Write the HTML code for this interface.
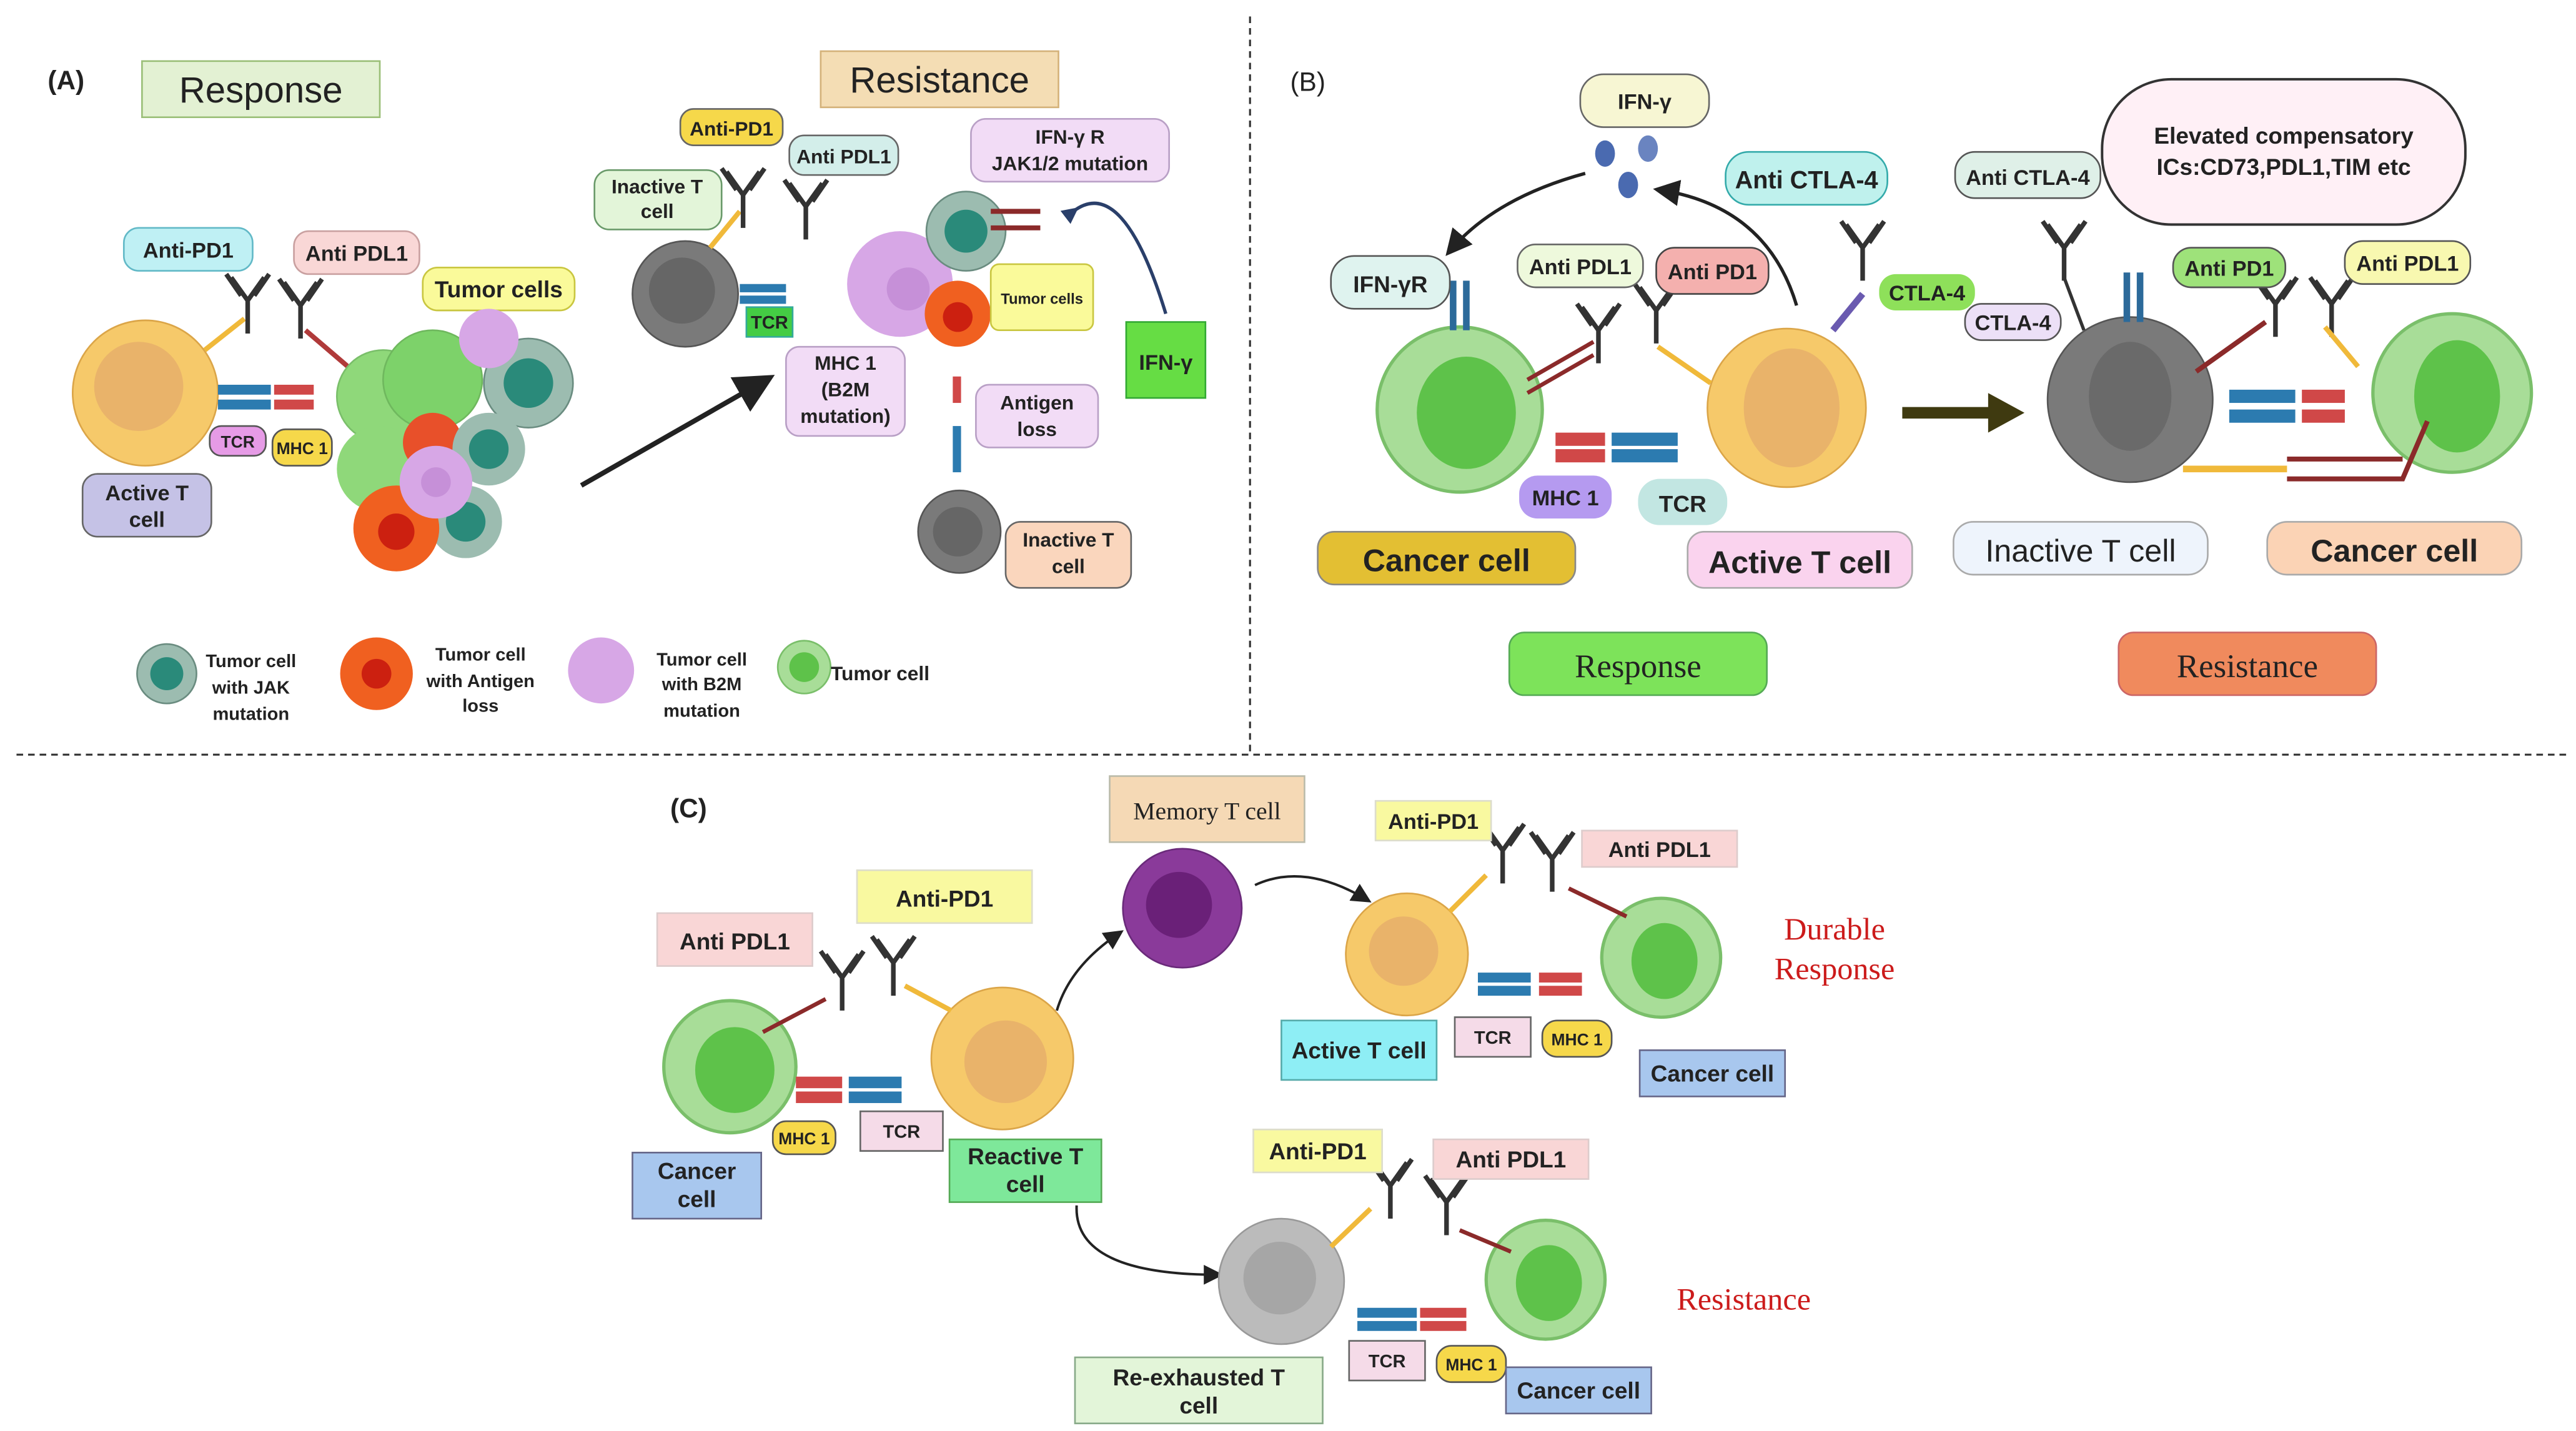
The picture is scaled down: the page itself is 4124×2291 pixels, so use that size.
<!DOCTYPE html>
<html><head><meta charset="utf-8"><style>
html,body{margin:0;padding:0;background:#fff;}
svg{display:block;}
text{font-family:"Liberation Sans",Arial,sans-serif;font-weight:bold;fill:#222;text-anchor:middle;}
.s{font-family:"Liberation Serif",serif;font-weight:normal;}
</style></head><body>
<svg width="4124" height="2291" viewBox="0 0 1560 866.6" preserveAspectRatio="none" xmlns="http://www.w3.org/2000/svg">
<defs>
<g id="ab"><path d="M0,0 L0,20 M0,0 L-10,-14 M0,0 L10,-14 M-4,-3 L-13,-16 M4,-3 L13,-16" stroke="#333" stroke-width="2.8" fill="none"/></g>
<marker id="ah" markerWidth="8" markerHeight="8" refX="6" refY="4" orient="auto"><path d="M0,0 L8,4 L0,8 Z" fill="#222"/></marker>
<marker id="ah2" markerWidth="5" markerHeight="5" refX="3" refY="2.5" orient="auto"><path d="M0,0 L5,2.5 L0,5 Z" fill="#2a3f6a"/></marker>
</defs>
<rect width="1560" height="866.6" fill="#fff"/>
<line x1="757" y1="10" x2="757" y2="455" stroke="#333" stroke-width="1.2" stroke-dasharray="4,3"/>
<line x1="10" y1="457" x2="1555" y2="457" stroke="#333" stroke-width="1.2" stroke-dasharray="4,3"/>

<!-- ===== Panel A ===== -->
<text x="40" y="54" font-size="16">(A)</text>
<rect x="86" y="37" width="144" height="34" fill="#e3f1d3" stroke="#9bbf78"/>
<text x="158" y="62" font-size="22" style="font-weight:normal">Response</text>
<rect x="497" y="31" width="144" height="34" fill="#f4ddb4" stroke="#d4b27a"/>
<text x="569" y="56" font-size="22" style="font-weight:normal">Resistance</text>

<circle cx="88" cy="238" r="44" fill="#f6c96a" stroke="#dba548"/>
<circle cx="84" cy="234" r="27" fill="#e9b36a"/>
<path d="M124,212 L148,193" stroke="#f0b93a" stroke-width="3"/>
<use href="#ab" x="150" y="182"/><use href="#ab" x="182" y="185"/>
<path d="M185,200 L220,230" stroke="#b03a3a" stroke-width="3"/>
<rect x="132" y="233" width="32" height="6" fill="#2c7bb0"/><rect x="132" y="242" width="32" height="6" fill="#2c7bb0"/>
<rect x="166" y="233" width="24" height="6" fill="#d04848"/><rect x="166" y="242" width="24" height="6" fill="#d04848"/>
<rect x="75" y="138" width="78" height="26" rx="9" fill="#bff0f4" stroke="#62b9c7"/><text x="114" y="156" font-size="13">Anti-PD1</text>
<rect x="178" y="140" width="76" height="26" rx="9" fill="#f9d7d6" stroke="#c9a0a0"/><text x="216" y="158" font-size="13">Anti PDL1</text>
<rect x="256" y="162" width="92" height="26" rx="9" fill="#fafa9a" stroke="#c9c640"/><text x="302" y="180" font-size="14">Tumor cells</text>
<rect x="127" y="258" width="34" height="18" rx="7" fill="#e69be6" stroke="#555"/><text x="144" y="271" font-size="10">TCR</text>
<rect x="165" y="260" width="36" height="22" rx="8" fill="#f6d84a" stroke="#555"/><text x="183" y="275" font-size="10">MHC 1</text>
<rect x="50" y="287" width="78" height="38" rx="9" fill="#c5c2e6" stroke="#666"/><text x="89" y="303" font-size="13">Active T</text><text x="89" y="319" font-size="13">cell</text>
<circle cx="232" cy="240" r="28" fill="#8fd87a" stroke="#7abf6a"/>
<circle cx="262" cy="230" r="30" fill="#7dd26a" stroke="#6fb85e"/>
<circle cx="230" cy="284" r="26" fill="#8fd87a"/>
<circle cx="262" cy="268" r="18" fill="#e8502a"/>
<circle cx="320" cy="232" r="27" fill="#9cbcb0" stroke="#6a8c80"/><circle cx="320" cy="232" r="15" fill="#2a8a7a"/>
<circle cx="296" cy="272" r="22" fill="#9cbcb0"/><circle cx="296" cy="272" r="12" fill="#2a8a7a"/>
<circle cx="282" cy="316" r="22" fill="#9cbcb0"/><circle cx="282" cy="316" r="12" fill="#2a8a7a"/>
<circle cx="240" cy="320" r="26" fill="#f06020"/><circle cx="240" cy="322" r="11" fill="#cc2010"/>
<circle cx="264" cy="292" r="22" fill="#d7a7e6"/><circle cx="264" cy="292" r="9" fill="#c690d8"/>
<circle cx="296" cy="205" r="18" fill="#d7a7e6"/>
<line x1="352" y1="294" x2="464" y2="230" stroke="#222" stroke-width="3" marker-end="url(#ah)"/>
<circle cx="415" cy="178" r="32" fill="#7a7a7a" stroke="#555"/><circle cx="413" cy="176" r="20" fill="#666"/>
<path d="M430,150 L448,128" stroke="#f0b93a" stroke-width="3"/>
<use href="#ab" x="450" y="118"/><use href="#ab" x="488" y="125"/>
<rect x="448" y="172" width="28" height="5" fill="#2c7bb0"/><rect x="448" y="179" width="28" height="5" fill="#2c7bb0"/>
<circle cx="545" cy="172" r="32" fill="#d7a7e6"/><circle cx="550" cy="175" r="13" fill="#c690d8"/>
<circle cx="585" cy="140" r="24" fill="#9cbcb0" stroke="#6a8c80"/><circle cx="585" cy="140" r="13" fill="#2a8a7a"/>
<circle cx="580" cy="190" r="20" fill="#f06020"/><circle cx="580" cy="192" r="9" fill="#cc2010"/>
<path d="M600,128 L630,128 M600,138 L630,138" stroke="#8b2a2a" stroke-width="3"/>
<path d="M650,128 Q680,105 706,190" stroke="#2a3f6a" stroke-width="2" fill="none" marker-start="url(#ah2)"/>
<rect x="360" y="103" width="77" height="36" rx="9" fill="#e3f5d9" stroke="#6a9a6a"/><text x="398" y="117" font-size="12">Inactive T</text><text x="398" y="132" font-size="12">cell</text>
<rect x="412" y="66" width="62" height="22" rx="8" fill="#f6d84a" stroke="#666"/><text x="443" y="82" font-size="12">Anti-PD1</text>
<rect x="478" y="82" width="66" height="24" rx="9" fill="#d3eeea" stroke="#666"/><text x="511" y="99" font-size="12">Anti PDL1</text>
<rect x="588" y="72" width="120" height="38" rx="9" fill="#f2dcf6" stroke="#b9a0c6"/><text x="648" y="87" font-size="12">IFN-γ R</text><text x="648" y="103" font-size="12">JAK1/2 mutation</text>
<rect x="452" y="186" width="28" height="18" fill="#44cc44" stroke="#3a9"/><text x="466" y="199" font-size="11">TCR</text>
<rect x="600" y="160" width="62" height="40" rx="5" fill="#fafa9a" stroke="#c9c640"/><text x="631" y="184" font-size="9">Tumor cells</text>
<rect x="682" y="195" width="48" height="46" fill="#66dd44" stroke="#3a3"/><text x="706" y="224" font-size="13">IFN-γ</text>
<rect x="476" y="210" width="72" height="54" rx="8" fill="#f2dcf6" stroke="#b9a0c6"/><text x="512" y="224" font-size="12">MHC 1</text><text x="512" y="240" font-size="12">(B2M</text><text x="512" y="256" font-size="12">mutation)</text>
<rect x="591" y="233" width="74" height="38" rx="8" fill="#f2dcf6" stroke="#b9a0c6"/><text x="628" y="248" font-size="12">Antigen</text><text x="628" y="264" font-size="12">loss</text>
<rect x="577" y="228" width="5" height="16" fill="#d04848"/><rect x="577" y="258" width="5" height="28" fill="#2c7bb0"/>
<circle cx="581" cy="322" r="25" fill="#7a7a7a" stroke="#555"/><circle cx="580" cy="322" r="15" fill="#666"/>
<rect x="609" y="316" width="76" height="40" rx="9" fill="#fad6bd" stroke="#666"/><text x="647" y="331" font-size="12">Inactive T</text><text x="647" y="347" font-size="12">cell</text>
<circle cx="101" cy="408" r="18" fill="#9cbcb0" stroke="#6a8c80"/><circle cx="101" cy="408" r="10" fill="#2a8a7a"/>
<text x="152" y="404" font-size="11">Tumor cell</text><text x="152" y="420" font-size="11">with JAK</text><text x="152" y="436" font-size="11">mutation</text>
<circle cx="228" cy="408" r="22" fill="#f06020"/><circle cx="228" cy="408" r="9" fill="#cc2010"/>
<text x="291" y="400" font-size="11">Tumor cell</text><text x="291" y="416" font-size="11">with Antigen</text><text x="291" y="431" font-size="11">loss</text>
<circle cx="364" cy="406" r="20" fill="#d7a7e6"/>
<text x="425" y="403" font-size="11">Tumor  cell</text><text x="425" y="418" font-size="11">with B2M</text><text x="425" y="434" font-size="11">mutation</text>
<circle cx="487" cy="404" r="16" fill="#a8dd98" stroke="#7abf6a"/><circle cx="487" cy="404" r="9" fill="#5ec24a"/>
<text x="533" y="412" font-size="12">Tumor cell</text>

<!-- ===== Panel B ===== -->
<text x="792" y="55" font-size="16" style="font-weight:normal">(B)</text>
<rect x="957" y="45" width="78" height="32" rx="14" fill="#f7f6d3" stroke="#666"/><text x="996" y="66" font-size="13">IFN-γ</text>
<ellipse cx="972" cy="93" rx="6" ry="8" fill="#4a6ab0"/><ellipse cx="998" cy="90" rx="6" ry="8" fill="#6a84c0"/><ellipse cx="986" cy="112" rx="6" ry="8" fill="#4a6ab0"/>
<path d="M960,105 Q905,120 878,152" stroke="#222" stroke-width="2" fill="none" marker-end="url(#ah)"/>
<path d="M1088,185 Q1070,125 1005,115" stroke="#222" stroke-width="2" fill="none" marker-end="url(#ah)"/>
<circle cx="884" cy="248" r="50" fill="#a8dd98" stroke="#7abf6a" stroke-width="2"/><ellipse cx="888" cy="250" rx="30" ry="34" fill="#5ec24a"/>
<path d="M880,170 L880,200 M888,170 L888,200" stroke="#2c6a9a" stroke-width="4"/>
<circle cx="1082" cy="247" r="48" fill="#f6c96a" stroke="#dba548"/><ellipse cx="1085" cy="247" rx="29" ry="36" fill="#e9b36a"/>
<rect x="942" y="262" width="30" height="8" fill="#d04848"/><rect x="942" y="272" width="30" height="8" fill="#d04848"/>
<rect x="976" y="262" width="40" height="8" fill="#2c7bb0"/><rect x="976" y="272" width="40" height="8" fill="#2c7bb0"/>
<path d="M925,238 L965,215 M925,230 L965,207" stroke="#8b2a2a" stroke-width="2.5"/>
<path d="M1036,232 L1004,210" stroke="#f0b93a" stroke-width="3"/>
<use href="#ab" x="968" y="200"/><use href="#ab" x="1003" y="188"/>
<path d="M1110,200 L1128,178" stroke="#6a5ab0" stroke-width="4"/><use href="#ab" x="1128" y="150"/>
<rect x="806" y="155" width="72" height="32" rx="14" fill="#dff3ef" stroke="#555"/><text x="842" y="177" font-size="14">IFN-γR</text>
<rect x="919" y="148" width="76" height="26" rx="11" fill="#eef9dc" stroke="#666"/><text x="957" y="166" font-size="13">Anti PDL1</text>
<rect x="1003" y="150" width="68" height="28" rx="11" fill="#f4b0ae" stroke="#444"/><text x="1037" y="169" font-size="13">Anti PD1</text>
<rect x="1045" y="92" width="98" height="32" rx="14" fill="#bff1ed" stroke="#3aa"/><text x="1094" y="114" font-size="15">Anti CTLA-4</text>
<rect x="1138" y="166" width="58" height="22" rx="10" fill="#8ee05a"/><text x="1167" y="182" font-size="13">CTLA-4</text>
<rect x="920" y="288" width="56" height="26" rx="11" fill="#b59af0"/><text x="948" y="306" font-size="13">MHC 1</text>
<rect x="992" y="290" width="54" height="28" rx="13" fill="#c2e6e2"/><text x="1019" y="310" font-size="14">TCR</text>
<rect x="798" y="322" width="156" height="32" rx="10" fill="#e3bf33" stroke="#888"/><text x="876" y="346" font-size="19">Cancer cell</text>
<rect x="1022" y="322" width="136" height="34" rx="10" fill="#fad3ee" stroke="#aaa"/><text x="1090" y="347" font-size="19">Active T cell</text>
<rect x="914" y="383" width="156" height="38" rx="9" fill="#7de35a" stroke="#5a5"/><text x="992" y="410" font-size="20" class="s">Response</text>
<rect x="1283" y="383" width="156" height="38" rx="9" fill="#f08a5d" stroke="#c66"/><text x="1361" y="410" font-size="20" class="s">Resistance</text>
<path d="M1152,250 L1206,250" stroke="#3f3a10" stroke-width="7"/><path d="M1204,238 L1226,250 L1204,262 Z" fill="#3f3a10"/>
<rect x="1273" y="48" width="220" height="88" rx="42" fill="#fff0f6" stroke="#333" stroke-width="1.5"/>
<text x="1383" y="87" font-size="14">Elevated compensatory</text><text x="1383" y="106" font-size="14">ICs:CD73,PDL1,TIM etc</text>
<circle cx="1290" cy="242" r="50" fill="#7a7a7a" stroke="#555"/><ellipse cx="1290" cy="240" rx="25" ry="33" fill="#6a6a6a"/>
<circle cx="1485" cy="238" r="48" fill="#a8dd98" stroke="#7abf6a" stroke-width="2"/><ellipse cx="1488" cy="240" rx="26" ry="34" fill="#5ec24a"/>
<path d="M1288,165 L1288,195 M1296,165 L1296,195" stroke="#2c6a9a" stroke-width="4"/>
<rect x="1350" y="236" width="40" height="8" fill="#2c7bb0"/><rect x="1350" y="248" width="40" height="8" fill="#2c7bb0"/>
<rect x="1394" y="236" width="26" height="8" fill="#d04848"/><rect x="1394" y="248" width="26" height="8" fill="#d04848"/>
<path d="M1322,284 L1385,284" stroke="#f0b93a" stroke-width="4"/>
<path d="M1385,278 L1455,278 M1385,290 L1455,290 L1470,255" stroke="#8b2a2a" stroke-width="3" fill="none"/>
<path d="M1330,225 L1372,195" stroke="#8b2a2a" stroke-width="3"/><use href="#ab" x="1378" y="184"/><use href="#ab" x="1412" y="184"/>
<path d="M1428,222 L1408,198" stroke="#f0b93a" stroke-width="3"/>
<use href="#ab" x="1250" y="150"/><path d="M1250,168 L1262,200" stroke="#333" stroke-width="2"/>
<rect x="1184" y="92" width="88" height="28" rx="12" fill="#dff0e8" stroke="#555"/><text x="1228" y="112" font-size="13">Anti CTLA-4</text>
<rect x="1316" y="150" width="68" height="24" rx="11" fill="#9ee27a" stroke="#555"/><text x="1350" y="167" font-size="13">Anti PD1</text>
<rect x="1420" y="146" width="76" height="26" rx="11" fill="#f8f8b0" stroke="#555"/><text x="1458" y="164" font-size="13">Anti PDL1</text>
<rect x="1190" y="184" width="58" height="22" rx="10" fill="#ece0f7" stroke="#555"/><text x="1219" y="200" font-size="13">CTLA-4</text>
<rect x="1183" y="316" width="154" height="32" rx="12" fill="#eef4fc" stroke="#aaa"/><text x="1260" y="340" font-size="19" style="font-weight:normal">Inactive  T cell</text>
<rect x="1373" y="316" width="154" height="32" rx="12" fill="#fbd3b5" stroke="#aaa"/><text x="1450" y="340" font-size="19">Cancer cell</text>

<!-- ===== Panel C ===== -->
<text x="417" y="495" font-size="16">(C)</text>
<rect x="672" y="470" width="118" height="40" fill="#f5d9b5" stroke="#bba"/><text x="731" y="496" font-size="15" class="s">Memory T cell</text>
<circle cx="716" cy="550" r="36" fill="#8a3a9a" stroke="#6a2a7a"/><circle cx="714" cy="548" r="20" fill="#6a2078"/>
<rect x="519" y="527" width="106" height="32" fill="#f9f9a0" stroke="#ddc"/><text x="572" y="549" font-size="14">Anti-PD1</text>
<rect x="398" y="553" width="94" height="32" fill="#f9d6d6" stroke="#dcc"/><text x="445" y="575" font-size="14">Anti PDL1</text>
<circle cx="442" cy="646" r="40" fill="#a8dd98" stroke="#7abf6a" stroke-width="2"/><ellipse cx="445" cy="648" rx="24" ry="26" fill="#5ec24a"/>
<circle cx="607" cy="641" r="43" fill="#f6c96a" stroke="#dba548"/><circle cx="609" cy="643" r="25" fill="#e9b36a"/>
<rect x="482" y="652" width="28" height="7" fill="#d04848"/><rect x="482" y="661" width="28" height="7" fill="#d04848"/>
<rect x="514" y="652" width="32" height="7" fill="#2c7bb0"/><rect x="514" y="661" width="32" height="7" fill="#2c7bb0"/>
<path d="M462,625 L500,605" stroke="#8b2a2a" stroke-width="2.5"/><use href="#ab" x="510" y="592"/><use href="#ab" x="541" y="583"/>
<path d="M576,612 L548,597" stroke="#f0b93a" stroke-width="3"/>
<rect x="468" y="679" width="38" height="20" rx="8" fill="#f6d84a" stroke="#555"/><text x="487" y="693" font-size="10">MHC 1</text>
<rect x="521" y="673" width="50" height="24" fill="#f5dbe8" stroke="#666"/><text x="546" y="689" font-size="11">TCR</text>
<rect x="383" y="698" width="78" height="40" fill="#a8c7ee" stroke="#668"/><text x="422" y="714" font-size="14">Cancer</text><text x="422" y="731" font-size="14">cell</text>
<rect x="575" y="690" width="92" height="38" fill="#7ee89a" stroke="#5a5"/><text x="621" y="705" font-size="14">Reactive T</text><text x="621" y="722" font-size="14">cell</text>
<path d="M640,612 Q648,585 678,565" stroke="#222" stroke-width="1.5" fill="none" marker-end="url(#ah)"/>
<path d="M760,536 Q790,522 828,545" stroke="#222" stroke-width="1.5" fill="none" marker-end="url(#ah)"/>
<path d="M652,730 Q650,772 738,772" stroke="#222" stroke-width="1.5" fill="none" marker-end="url(#ah)"/>
<circle cx="852" cy="578" r="37" fill="#f6c96a" stroke="#dba548"/><circle cx="850" cy="576" r="21" fill="#e9b36a"/>
<circle cx="1006" cy="580" r="36" fill="#a8dd98" stroke="#7abf6a" stroke-width="2"/><ellipse cx="1008" cy="582" rx="20" ry="23" fill="#5ec24a"/>
<rect x="895" y="589" width="32" height="6" fill="#2c7bb0"/><rect x="895" y="597" width="32" height="6" fill="#2c7bb0"/>
<rect x="932" y="589" width="26" height="6" fill="#d04848"/><rect x="932" y="597" width="26" height="6" fill="#d04848"/>
<path d="M878,552 L900,530" stroke="#f0b93a" stroke-width="3"/><use href="#ab" x="910" y="515"/><use href="#ab" x="940" y="520"/>
<path d="M950,538 L985,555" stroke="#8b2a2a" stroke-width="2.5"/>
<rect x="833" y="485" width="70" height="24" fill="#f9f9a0" stroke="#ddc"/><text x="868" y="502" font-size="13">Anti-PD1</text>
<rect x="958" y="503" width="94" height="22" fill="#f9d6d6" stroke="#dcc"/><text x="1005" y="519" font-size="13">Anti PDL1</text>
<rect x="776" y="618" width="94" height="36" fill="#8eeef5" stroke="#5aa"/><text x="823" y="641" font-size="14">Active T cell</text>
<rect x="881" y="616" width="46" height="24" fill="#f5dbe8" stroke="#666"/><text x="904" y="632" font-size="11">TCR</text>
<rect x="934" y="618" width="42" height="22" rx="9" fill="#f6d84a" stroke="#555"/><text x="955" y="633" font-size="10">MHC 1</text>
<rect x="993" y="636" width="88" height="28" fill="#a8c7ee" stroke="#668"/><text x="1037" y="655" font-size="14">Cancer cell</text>
<text x="1111" y="569" font-size="19" class="s" style="fill:#cc1b1b">Durable</text>
<text x="1111" y="593" font-size="19" class="s" style="fill:#cc1b1b">Response</text>
<circle cx="776" cy="776" r="38" fill="#bbb" stroke="#999"/><circle cx="775" cy="774" r="22" fill="#a6a6a6"/>
<circle cx="936" cy="775" r="36" fill="#a8dd98" stroke="#7abf6a" stroke-width="2"/><ellipse cx="938" cy="777" rx="20" ry="23" fill="#5ec24a"/>
<rect x="822" y="792" width="36" height="6" fill="#2c7bb0"/><rect x="822" y="800" width="36" height="6" fill="#2c7bb0"/>
<rect x="860" y="792" width="28" height="6" fill="#d04848"/><rect x="860" y="800" width="28" height="6" fill="#d04848"/>
<path d="M806,755 L830,732" stroke="#f0b93a" stroke-width="3"/><use href="#ab" x="842" y="718"/><use href="#ab" x="876" y="728"/>
<path d="M884,745 L915,758" stroke="#8b2a2a" stroke-width="2.5"/>
<rect x="759" y="684" width="78" height="26" fill="#f9f9a0" stroke="#ddc"/><text x="798" y="702" font-size="14">Anti-PD1</text>
<rect x="868" y="690" width="94" height="24" fill="#f9d6d6" stroke="#dcc"/><text x="915" y="707" font-size="14">Anti PDL1</text>
<rect x="817" y="812" width="46" height="24" fill="#f5dbe8" stroke="#666"/><text x="840" y="828" font-size="11">TCR</text>
<rect x="870" y="815" width="42" height="22" rx="9" fill="#f6d84a" stroke="#555"/><text x="891" y="830" font-size="10">MHC 1</text>
<rect x="912" y="828" width="88" height="28" fill="#a8c7ee" stroke="#668"/><text x="956" y="847" font-size="14">Cancer cell</text>
<rect x="651" y="822" width="150" height="40" fill="#e3f5d9" stroke="#8a8"/><text x="726" y="839" font-size="14">Re-exhausted T</text><text x="726" y="856" font-size="14">cell</text>
<text x="1056" y="793" font-size="19" class="s" style="fill:#cc1b1b">Resistance</text>
</svg>
</body></html>
